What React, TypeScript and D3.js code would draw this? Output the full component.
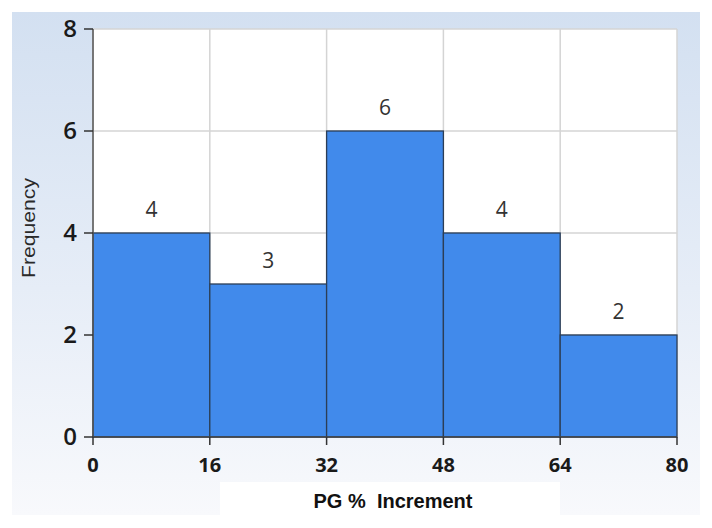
import React from "react";
import * as d3 from "d3";

const binStarts = [0, 16, 32, 48, 64];
const binEnds = [16, 32, 48, 64, 80];
const frequencies = [4, 3, 6, 4, 2];
const xTicks = [0, 16, 32, 48, 64, 80];
const yTicks = [0, 2, 4, 6, 8];
const xLabel = "PG %  Increment";
const yLabel = "Frequency";

export default function App() {
  const W = 712, H = 528;
  const x = d3.scaleLinear().domain([0, 80]).range([93, 677]);
  const y = d3.scaleLinear().domain([0, 8]).range([437, 29]);
  const bins = binStarts.map((s, i) => ({ s, e: binEnds[i], f: frequencies[i] }));
  const tickFont = "'Open Sans', 'DejaVu Sans', sans-serif";
  return (
    <svg width={W} height={H} style={{ position: "absolute", left: 0, top: 0 }}>
      <defs>
        <linearGradient id="bg" x1="0" y1="0" x2="0" y2="1">
          <stop offset="0" stopColor="#d3e0f1" />
          <stop offset="0.55" stopColor="#e6edf7" />
          <stop offset="1" stopColor="#f8f9fc" />
        </linearGradient>
      </defs>
      <rect x={0} y={0} width={W} height={H} fill="#fff" />
      <rect x={12} y={12} width={688} height={503} fill="url(#bg)" />
      <rect x={220} y={482} width={340} height={34} fill="#fff" />
      <rect x={x(0)} y={y(8)} width={x(80) - x(0)} height={y(0) - y(8)} fill="#fff" />
      {xTicks.map((t) => (
        <line key={"gx" + t} x1={x(t)} x2={x(t)} y1={y(8)} y2={y(0)} stroke="#d4d4d4" strokeWidth={1.5} />
      ))}
      {yTicks.map((t) => (
        <line key={"gy" + t} x1={x(0)} x2={x(80)} y1={y(t)} y2={y(t)} stroke="#d4d4d4" strokeWidth={1.5} />
      ))}
      {bins.map((b, i) => (
        <rect key={"b" + i} x={x(b.s)} y={y(b.f)} width={x(b.e) - x(b.s)} height={y(0) - y(b.f)}
          fill="#418aeb" stroke="#2c3e56" strokeWidth={1.3} />
      ))}
      {bins.map((b, i) => (
        <text key={"v" + i} x={(x(b.s) + x(b.e)) / 2} y={y(b.f) - 16} textAnchor="middle"
          fontFamily={tickFont} fontSize={21} fill="#333">{b.f}</text>
      ))}
      <line x1={x(0)} x2={x(0)} y1={y(8)} y2={y(0)} stroke="#555" strokeWidth={1.5} />
      <line x1={x(0)} x2={x(80)} y1={y(0)} y2={y(0)} stroke="#444" strokeWidth={1.5} />
      {yTicks.map((t) => (
        <g key={"yt" + t}>
          <line x1={84} x2={x(0)} y1={y(t)} y2={y(t)} stroke="#333" strokeWidth={1.5} />
          <text x={77} y={y(t) + 8} textAnchor="end" fontFamily={tickFont}
            fontWeight={600} fontSize={24} fill="#1a1a1a">{t}</text>
        </g>
      ))}
      {xTicks.map((t) => (
        <g key={"xt" + t}>
          <line x1={x(t)} x2={x(t)} y1={y(0)} y2={y(0) + 8} stroke="#333" strokeWidth={1.5} />
          <text x={x(t)} y={472} textAnchor="middle" fontFamily={tickFont}
            fontWeight={700} fontSize={20} fill="#1a1a1a">{t}</text>
        </g>
      ))}
      <text x={393} y={508} textAnchor="middle" fontFamily="'Liberation Sans', Arial, sans-serif"
        fontWeight="bold" fontSize={20} fill="#111" style={{ whiteSpace: "pre" }}>{xLabel}</text>
      <text transform={`translate(35,${228}) rotate(-90)`} textAnchor="middle"
        fontFamily="'Liberation Sans', Arial, sans-serif" fontSize={18} fill="#2a2a2a"
        textLength={100} lengthAdjust="spacingAndGlyphs">{yLabel}</text>
    </svg>
  );
}
